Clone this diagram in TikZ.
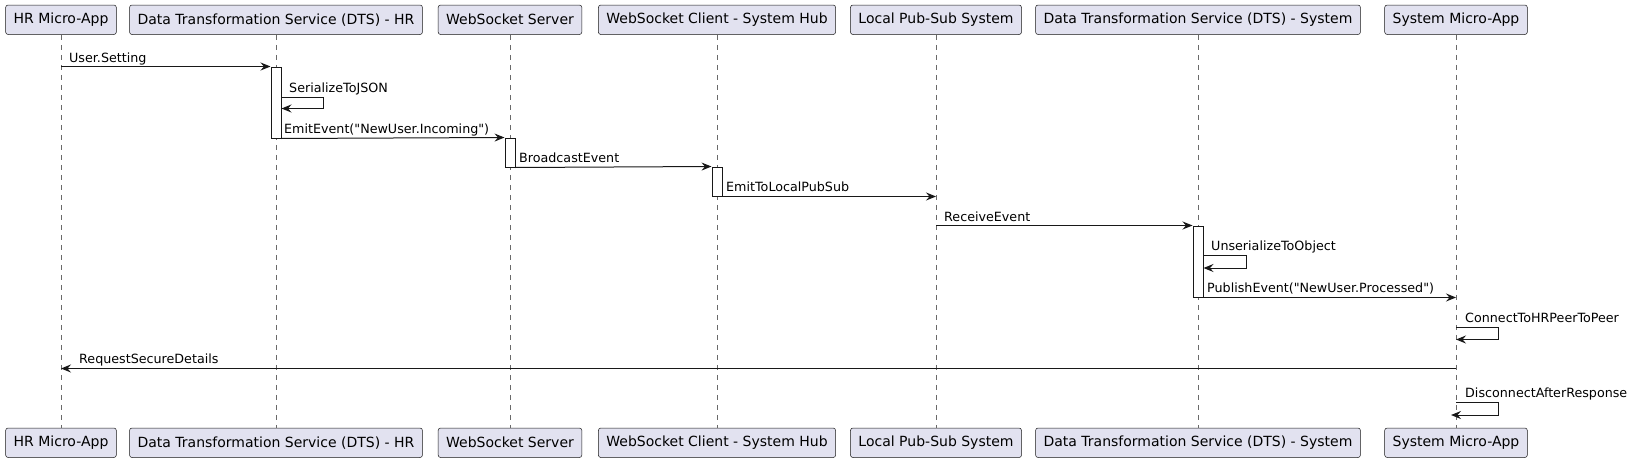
\documentclass[tikz,border=0pt]{standalone}
\usepackage{fontspec}
\setmainfont{DejaVu Sans}
\usetikzlibrary{arrows.meta, positioning}
\definecolor{boxfill}{HTML}{E2E2F0}
\definecolor{linecolor}{HTML}{181818}

\begin{document}
\begin{tikzpicture}[
            x=1pt, y=-1pt,
            >={Stealth[length=10pt, width=8pt, inset=3.5pt]},
                participant/.style = {rectangle, rounded corners=2.5pt, draw=linecolor,
                            fill=boxfill, line width=0.5pt, minimum height=29.5pt,
                            inner xsep=8pt, font=\fontsize{14}{16}\selectfont},
                lifeline/.style = {draw=linecolor!65, line width=0.6pt, dash pattern=on 5pt off 5pt},
                activation/.style = {rectangle, draw=linecolor, fill=white, line width=1pt,
                            minimum width=10pt, inner sep=0pt},
                msg/.style = {draw=linecolor, line width=1pt, ->},
                msglabel/.style = {anchor=base west, inner sep=0pt, font=\fontsize{12.7}{15}\selectfont}]
            \useasboundingbox (0,0) rectangle (1635,463);
            \node (HRApp) [participant] at (61,19.75) {HR Micro-App};
            \node (DTSHR) [participant] at (276,19.75) {Data Transformation Service (DTS) - HR};
            \node (WSServer) [participant] at (510,19.75) {WebSocket Server};
            \node (WSClient) [participant] at (717,19.75) {WebSocket Client - System Hub};
            \node (PubSub) [participant] at (936,19.75) {Local Pub-Sub System};
            \node (DTSSys) [participant] at (1198,19.75) {Data Transformation Service (DTS) - System};
            \node (SysApp) [participant] at (1456,19.75) {System Micro-App};
            \node (HRAppEnd) [participant] at (61,442.75) {HR Micro-App};
            \node (DTSHREnd) [participant] at (276,442.75) {Data Transformation Service (DTS) - HR};
            \node (WSServerEnd) [participant] at (510,442.75) {WebSocket Server};
            \node (WSClientEnd) [participant] at (717,442.75) {WebSocket Client - System Hub};
            \node (PubSubEnd) [participant] at (936,442.75) {Local Pub-Sub System};
            \node (DTSSysEnd) [participant] at (1198,442.75) {Data Transformation Service (DTS) - System};
            \node (SysAppEnd) [participant] at (1456,442.75) {System Micro-App};
            \draw[lifeline] (HRApp.south) -- (HRAppEnd.north);
            \draw[lifeline] (DTSHR.south) -- (DTSHREnd.north);
            \draw[lifeline] (WSServer.south) -- (WSServerEnd.north);
            \draw[lifeline] (WSClient.south) -- (WSClientEnd.north);
            \draw[lifeline] (PubSub.south) -- (PubSubEnd.north);
            \draw[lifeline] (DTSSys.south) -- (DTSSysEnd.north);
            \draw[lifeline] (SysApp.south) -- (SysAppEnd.north);
            \node (DTSHRAct) [activation, minimum height=71pt] at (276,102.5) {};
            \node (WSServerAct) [activation, minimum height=29pt] at (510,152.5) {};
            \node (WSClientAct) [activation, minimum height=29pt] at (717,181.5) {};
            \node (DTSSysAct) [activation, minimum height=71pt] at (1198,261.5) {};
            \draw[msg] (HRApp |- DTSHRAct.north) -- (DTSHRAct.north west);
            \draw[msg] (DTSHRAct.east |- 0,97) -- ++(42,0) -- ++(0,11.5) -- ++(-42,0);
            \draw[msg] (DTSHRAct.south east) -- (WSServerAct.north west);
            \draw[msg] (WSServerAct.south east) -- (WSClientAct.north west);
            \draw[msg] (WSClientAct.south east) -- (PubSub |- WSClientAct.south);
            \draw[msg] (PubSub |- DTSSysAct.north) -- (DTSSysAct.north west);
            \draw[msg] (DTSSysAct.east |- 0,255.5) -- ++(43,0) -- ++(0,12.5) -- ++(-43,0);
            \draw[msg] (DTSSysAct.south east) -- (SysApp |- DTSSysAct.south);
            \draw[msg] (SysApp |- 0,327) -- ++(42,0) -- ++(0,12.5) -- ++(-42,0);
            \draw[msg] (SysApp |- 0,368.5) -- (HRApp |- 0,368.5);
            \draw[msg] (SysApp |- 0,402.5) -- ++(42,0) -- ++(0,12.5) -- ++(-47,0);
            \node (lblUserSetting) [msglabel] at (69,62) {User.Setting};
            \node (lblSerialize) [msglabel] at (289,92) {SerializeToJSON};
            \node (lblEmitEvent) [msglabel] at (284,133) {EmitEvent(\textquotedbl NewUser.Incoming\textquotedbl)};
            \node (lblBroadcast) [msglabel] at (519,162) {BroadcastEvent};
            \node (lblEmitLocal) [msglabel] at (726,191) {EmitToLocalPubSub};
            \node (lblReceive) [msglabel] at (944,221) {ReceiveEvent};
            \node (lblUnserialize) [msglabel] at (1211,250.5) {UnserializeToObject};
            \node (lblPublish) [msglabel] at (1207,292) {PublishEvent(\textquotedbl NewUser.Processed\textquotedbl)};
            \node (lblConnect) [msglabel] at (1465,322) {ConnectToHRPeerToPeer};
            \node (lblRequest) [msglabel] at (79,363.5) {RequestSecureDetails};
            \node (lblDisconnect) [msglabel] at (1465,397.5) {DisconnectAfterResponse};
        \end{tikzpicture}
\end{document}
